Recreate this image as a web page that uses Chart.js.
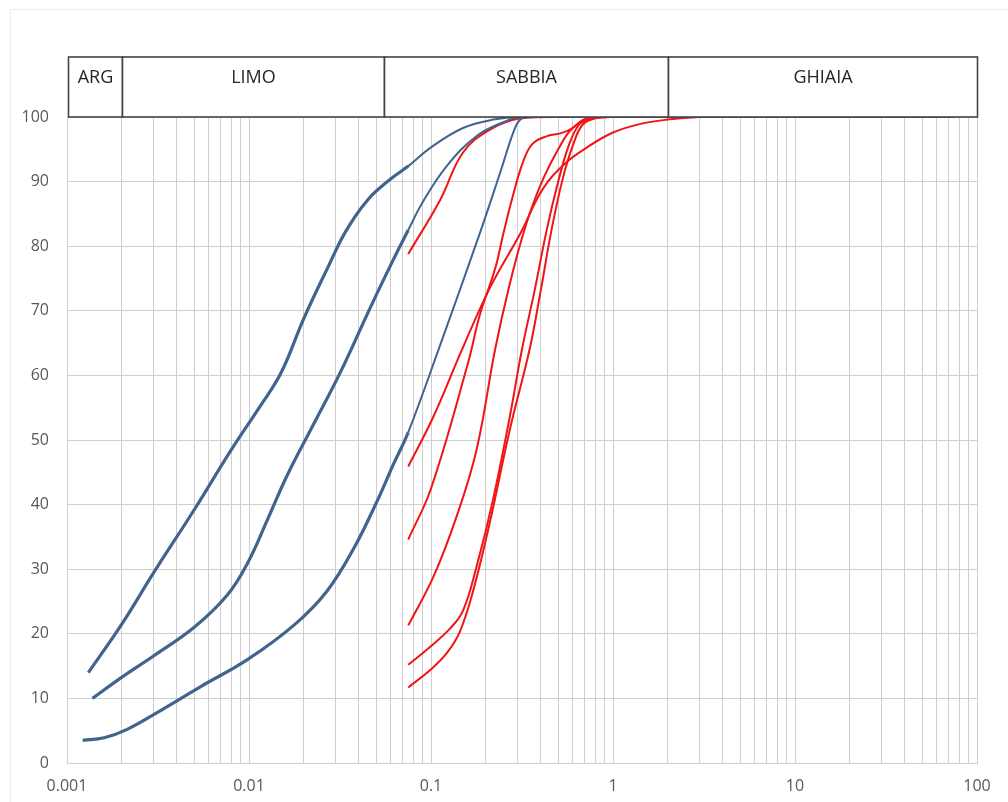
<!DOCTYPE html>
<html lang="it">
<head>
  <meta charset="UTF-8" />
  <title>Curve granulometriche</title>
  <script src="https://cdn.jsdelivr.net/npm/chart.js@4.4.0/dist/chart.umd.min.js"></script>
  <style>
    html, body { margin: 0; padding: 0; background: #ffffff; }
    #wrap { position: relative; width: 1008px; height: 802px; }
  </style>
</head>
<body>
  <div id="wrap"><canvas id="grainChart"></canvas></div>

  <script>
    // Zone granulometriche (limiti in mm)
    const zoneLabels = ['ARG', 'LIMO', 'SABBIA', 'GHIAIA'];
    const zoneLimits = [0.001, 0.002, 0.055, 2, 100];

    const xTickLabels = ['0.001', '0.01', '0.1', '1', '10', '100'];
    const yTickValues = [0, 10, 20, 30, 40, 50, 60, 70, 80, 90, 100];

    // Curve da sedimentazione + setacci (blu)
    const blue1 = [[0.00131, 14], [0.002, 21.5], [0.003, 29.5], [0.005, 39.2], [0.008, 48.5], [0.0115, 55.2],
      [0.015, 60.4], [0.02, 68.8], [0.027, 76.6], [0.034, 82.3], [0.045, 87.2], [0.06, 90.4], [0.075, 92.4],
      [0.1, 95.3], [0.15, 98.3], [0.22, 99.6], [0.31, 100], [75, 100]];
    const blue2 = [[0.00138, 10], [0.00196, 13.1], [0.003, 16.6], [0.005, 21], [0.0076, 26], [0.0098, 30.9],
      [0.0126, 37.6], [0.0162, 44.5], [0.0227, 52.5], [0.0318, 60.5], [0.0464, 70.5], [0.0623, 78], [0.075, 82.5],
      [0.09, 86.8], [0.122, 92.4], [0.179, 97.1], [0.26, 99.4], [0.31, 100], [75, 100]];
    const blue3 = [[0.00122, 3.5], [0.0016, 3.9], [0.00214, 5.2], [0.0033, 8.2], [0.0054, 11.8], [0.0098, 16],
      [0.0176, 21.3], [0.0268, 26.6], [0.0376, 33.2], [0.0505, 40.5], [0.0623, 46.3], [0.075, 51.2], [0.11, 64],
      [0.186, 82.1], [0.24, 91.4], [0.285, 97.8], [0.31, 99.6], [0.35, 100], [75, 100]];

    // Curve solo setacci (rosso)
    const red1 = [[0.075, 78.8], [0.1125, 87.2], [0.15, 94.5], [0.212, 98.1], [0.31, 99.8], [0.5, 100], [4, 100]];
    const red2 = [[0.075, 45.9], [0.103, 53.6], [0.148, 64], [0.212, 73.7], [0.31, 82], [0.41, 88.8], [0.54, 92.7],
      [0.72, 95.3], [1, 97.6], [1.4, 98.9], [2, 99.6], [3, 100], [4, 100]];
    const red3 = [[0.075, 34.6], [0.1, 42.5], [0.16, 62], [0.186, 69.5], [0.225, 76.5], [0.25, 82], [0.28, 87.5],
      [0.32, 93], [0.36, 95.8], [0.43, 97], [0.52, 97.5], [0.6, 98.3], [0.68, 99.5], [0.8, 100], [4, 100]];
    const red4 = [[0.075, 21.3], [0.103, 28.8], [0.138, 38.1], [0.178, 48.5], [0.225, 64], [0.27, 74], [0.33, 83],
      [0.4, 89.5], [0.5, 95], [0.6, 98.3], [0.75, 99.7], [1, 100], [4, 100]];
    const red5 = [[0.075, 15.2], [0.0991, 18], [0.127, 20.8], [0.15, 23.6], [0.178, 30.4], [0.219, 40.7],
      [0.271, 53.6], [0.316, 64], [0.37, 73], [0.433, 82.6], [0.5, 90], [0.57, 95.5], [0.65, 98.8], [0.75, 99.8],
      [0.9, 100], [4, 100]];
    const red6 = [[0.075, 11.7], [0.099, 14.4], [0.122, 17], [0.144, 20.3], [0.171, 26.8], [0.21, 37.1],
      [0.271, 51.6], [0.348, 64], [0.4, 73], [0.46, 82.6], [0.53, 90.5], [0.6, 95.5], [0.68, 98.8], [0.8, 99.8],
      [1, 100], [4, 100]];

    const blueCurves = [blue1, blue2, blue3];
    const redCurves = [red1, red2, red3, red4, red5, red6];

    const BLUE = '#41648f';
    const RED = '#f21414';
    const SIEVE_START = 0.075;

    const toPoints = arr => arr.map(p => ({ x: p[0], y: p[1] }));

    const datasets = [];
    blueCurves.forEach((c, i) => {
      datasets.push({
        label: 'blu ' + (i + 1),
        data: toPoints(c),
        borderColor: BLUE,
        borderWidth: 3.2,
        segment: {
          // tratto fine dove iniziano i setacci
          borderWidth: ctx => ctx.p0.parsed.x >= SIEVE_START - 1e-6 ? 2 : 3.2
        }
      });
    });
    redCurves.forEach((c, i) => {
      datasets.push({
        label: 'rosso ' + (i + 1),
        data: toPoints(c),
        borderColor: RED,
        borderWidth: 2
      });
    });

    // Riquadri ARG / LIMO / SABBIA / GHIAIA sopra il grafico + cornice
    const zonesPlugin = {
      id: 'zones',
      beforeDraw(chart) {
        const c = chart.ctx;
        c.save();
        c.strokeStyle = '#ececec';
        c.lineWidth = 1;
        c.beginPath();
        c.moveTo(10.5, 802);
        c.lineTo(10.5, 9.5);
        c.lineTo(1008, 9.5);
        c.stroke();
        c.restore();
      },
      afterDraw(chart) {
        const x = chart.scales.x;
        const top = chart.chartArea.top;
        const c = chart.ctx;
        c.save();
        c.font = '18px "Open Sans"';
        c.textAlign = 'center';
        c.textBaseline = 'middle';
        for (let i = 0; i < zoneLabels.length; i++) {
          const x0 = Math.round(x.getPixelForValue(zoneLimits[i])) + (i === 0 ? 1.5 : 0.5);
          const x1 = Math.round(x.getPixelForValue(zoneLimits[i + 1])) + 0.5;
          c.fillStyle = '#ffffff';
          c.fillRect(x0, top - 60, x1 - x0, 60);
          c.strokeStyle = '#444444';
          c.lineWidth = 1.6;
          c.strokeRect(x0, top - 60, x1 - x0, 60);
          c.fillStyle = '#262626';
          c.fillText(zoneLabels[i], (x0 + x1) / 2, top - 39);
        }
        c.restore();
      }
    };

    new Chart(document.getElementById('grainChart'), {
      type: 'line',
      data: { datasets },
      plugins: [zonesPlugin],
      options: {
        responsive: true,
        maintainAspectRatio: false,
        animation: false,
        layout: { padding: { left: 0, right: 31, top: 117, bottom: 0 } },
        elements: {
          point: { radius: 0 },
          line: { tension: 0.4, fill: false, capBezierPoints: true }
        },
        plugins: {
          legend: { display: false },
          tooltip: { enabled: false }
        },
        scales: {
          x: {
            type: 'logarithmic',
            min: 0.001,
            max: 100,
            afterBuildTicks: scale => {
              const t = [];
              for (let e = -3; e < 2; e++) {
                for (let m = 1; m < 10; m++) t.push({ value: m * Math.pow(10, e) });
              }
              t.push({ value: 100 });
              scale.ticks = t;
            },
            afterFit: scale => { scale.height = 39; },
            ticks: {
              autoSkip: false,
              maxRotation: 0,
              padding: 14,
              color: '#595959',
              font: { family: 'Open Sans', size: 16 },
              callback: function (value) {
                const e = Math.log10(value);
                if (Math.abs(e - Math.round(e)) < 1e-9) return xTickLabels[Math.round(e) + 3];
                return '';
              }
            },
            grid: { color: '#cfcfcf', lineWidth: 1, drawTicks: false },
            border: { color: '#cfcfcf' }
          },
          y: {
            min: 0,
            max: 100,
            afterBuildTicks: scale => { scale.ticks = yTickValues.map(v => ({ value: v })); },
            afterFit: scale => { scale.width = 67; },
            ticks: {
              padding: 18,
              color: '#595959',
              font: { family: 'Open Sans', size: 16 }
            },
            grid: { color: '#cfcfcf', lineWidth: 1, drawTicks: false },
            border: { display: false }
          }
        }
      }
    });
  </script>
</body>
</html>
